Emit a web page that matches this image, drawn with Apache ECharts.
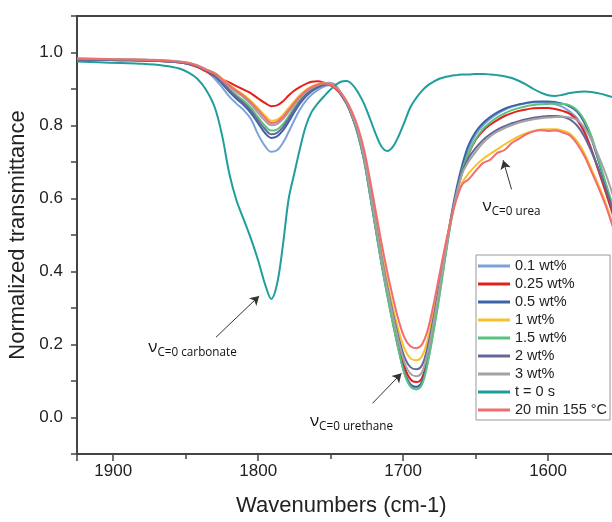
<!DOCTYPE html>
<html>
<head>
<meta charset="utf-8">
<script src="https://cdn.jsdelivr.net/npm/echarts@6/dist/echarts.min.js"></script>
<style>
html,body{margin:0;padding:0;background:#fff;}
#chart{width:612px;height:522px;}
</style>
</head>
<body>
<div id="chart"></div>
<script>
// Wavenumbers (cm-1), shared x values for all spectra
const wavenumbers = [1925,1910,1895,1880,1865,1855,1848,1842,1836,
  1830,1825,1820,1815,1810,1805,1800,1795,1791,
  1787,1783,1779,1775,1771,1767,1763,1759,1755,1751,
  1747,1743,1739,1735,1731,1727,1723,1719,1715,1711,
  1707,1703,1699,1695,1691,1687,1683,1679,1675,1671,
  1667,1663,1659,1655,1650,1645,1640,1635,1630,1625,
  1620,1615,1610,1605,1600,1595,1590,1585,1580,1575,
  1570,1565,1560,1555];

const seriesNames = ['0.1 wt%','0.25 wt%','0.5 wt%','1 wt%','1.5 wt%','2 wt%','3 wt%','t = 0 s','20 min 155 °C'];

const wt01 = [0.982,0.981,0.980,0.979,0.977,0.974,0.970,0.963,0.950,
  0.928,0.905,0.880,0.860,0.842,0.818,0.775,0.742,0.728,
  0.732,0.752,0.782,0.815,0.845,0.868,0.885,0.897,0.906,0.910,
  0.905,0.885,0.860,0.823,0.775,0.710,0.620,0.525,0.430,0.345,
  0.265,0.190,0.125,0.092,0.082,0.095,0.155,0.240,0.335,0.440,
  0.540,0.620,0.685,0.735,0.775,0.800,0.818,0.832,0.843,0.851,
  0.857,0.861,0.863,0.864,0.862,0.858,0.851,0.838,0.820,0.785,
  0.735,0.675,0.615,0.550];

const wt025 = [0.980,0.980,0.979,0.978,0.976,0.973,0.968,0.960,0.948,
  0.935,0.926,0.918,0.908,0.898,0.888,0.874,0.861,0.853,
  0.855,0.866,0.882,0.896,0.906,0.914,0.920,0.921,0.918,0.912,
  0.902,0.885,0.860,0.825,0.778,0.712,0.622,0.527,0.433,0.348,
  0.270,0.198,0.138,0.105,0.097,0.108,0.165,0.250,0.345,0.445,
  0.540,0.615,0.675,0.720,0.760,0.785,0.802,0.815,0.826,0.834,
  0.840,0.844,0.847,0.848,0.848,0.845,0.840,0.832,0.815,0.782,
  0.732,0.675,0.615,0.555];

const wt05 = [0.981,0.980,0.979,0.978,0.976,0.973,0.969,0.963,0.952,
  0.935,0.915,0.893,0.873,0.856,0.834,0.806,0.778,0.766,
  0.770,0.786,0.810,0.837,0.861,0.880,0.894,0.904,0.911,0.913,
  0.906,0.886,0.860,0.822,0.772,0.705,0.613,0.518,0.424,0.338,
  0.258,0.185,0.122,0.090,0.084,0.098,0.160,0.248,0.345,0.450,
  0.548,0.630,0.695,0.745,0.782,0.806,0.823,0.836,0.846,0.853,
  0.858,0.862,0.865,0.866,0.866,0.864,0.860,0.852,0.838,0.808,
  0.762,0.700,0.635,0.570];

const wt1 = [0.983,0.982,0.981,0.980,0.978,0.975,0.971,0.964,0.953,
  0.944,0.929,0.912,0.897,0.884,0.867,0.847,0.826,0.813,
  0.816,0.829,0.848,0.867,0.884,0.898,0.907,0.913,0.916,0.914,
  0.906,0.888,0.863,0.829,0.784,0.722,0.637,0.546,0.455,0.373,
  0.300,0.237,0.188,0.162,0.157,0.168,0.215,0.290,0.375,0.465,
  0.545,0.605,0.645,0.668,0.690,0.708,0.722,0.735,0.748,0.760,
  0.771,0.779,0.785,0.789,0.790,0.790,0.786,0.778,0.757,0.725,
  0.680,0.635,0.585,0.525];

const wt15 = [0.982,0.981,0.980,0.979,0.977,0.974,0.970,0.963,0.951,
  0.939,0.921,0.901,0.883,0.868,0.848,0.822,0.798,0.786,
  0.789,0.803,0.825,0.849,0.870,0.887,0.899,0.908,0.914,0.916,
  0.910,0.888,0.862,0.824,0.774,0.707,0.615,0.518,0.422,0.336,
  0.256,0.182,0.118,0.085,0.077,0.090,0.150,0.235,0.330,0.435,
  0.535,0.615,0.680,0.722,0.762,0.790,0.808,0.822,0.833,0.842,
  0.848,0.853,0.856,0.858,0.859,0.860,0.859,0.855,0.842,0.815,
  0.770,0.705,0.640,0.575];

const wt2 = [0.981,0.980,0.979,0.978,0.976,0.973,0.969,0.962,0.951,
  0.937,0.918,0.897,0.878,0.862,0.841,0.814,0.789,0.776,
  0.780,0.795,0.818,0.843,0.866,0.884,0.897,0.906,0.912,0.914,
  0.908,0.888,0.862,0.826,0.779,0.715,0.628,0.535,0.443,0.360,
  0.285,0.218,0.165,0.138,0.132,0.143,0.195,0.273,0.362,0.457,
  0.545,0.620,0.675,0.710,0.738,0.760,0.776,0.789,0.798,0.806,
  0.812,0.817,0.821,0.824,0.826,0.826,0.824,0.817,0.800,0.770,
  0.728,0.680,0.625,0.565];

const wt3 = [0.984,0.983,0.982,0.981,0.979,0.976,0.972,0.965,0.954,
  0.942,0.925,0.907,0.891,0.877,0.858,0.834,0.812,0.801,
  0.804,0.817,0.837,0.858,0.877,0.892,0.903,0.911,0.916,0.917,
  0.912,0.890,0.864,0.828,0.780,0.715,0.626,0.532,0.438,0.354,
  0.277,0.207,0.150,0.120,0.113,0.124,0.178,0.260,0.352,0.450,
  0.540,0.615,0.670,0.700,0.728,0.752,0.770,0.783,0.793,0.801,
  0.808,0.813,0.817,0.820,0.822,0.823,0.824,0.822,0.815,0.795,
  0.760,0.715,0.665,0.605];

const t0s = [0.975,0.973,0.971,0.969,0.964,0.957,0.945,0.928,0.898,
  0.850,0.775,0.670,0.595,0.543,0.490,0.430,0.362,0.325,
  0.365,0.470,0.598,0.670,0.740,0.800,0.838,0.860,0.878,0.895,
  0.910,0.920,0.922,0.912,0.890,0.860,0.820,0.778,0.743,0.730,
  0.742,0.772,0.810,0.850,0.875,0.895,0.910,0.920,0.928,0.933,
  0.936,0.938,0.940,0.940,0.941,0.941,0.940,0.938,0.935,0.930,
  0.922,0.912,0.900,0.890,0.883,0.881,0.884,0.889,0.892,0.893,
  0.892,0.888,0.883,0.877];

const min20 = [0.983,0.982,0.981,0.980,0.978,0.975,0.971,0.964,0.953,
  0.943,0.927,0.910,0.895,0.881,0.863,0.842,0.820,0.807,
  0.810,0.823,0.842,0.862,0.880,0.895,0.905,0.912,0.915,0.913,
  0.905,0.890,0.867,0.835,0.793,0.735,0.655,0.568,0.480,0.400,
  0.328,0.265,0.218,0.195,0.190,0.200,0.240,0.310,0.390,0.470,
  0.540,0.600,0.640,0.652,0.675,0.697,0.706,0.725,0.733,0.752,
  0.764,0.776,0.784,0.787,0.785,0.786,0.781,0.773,0.750,0.717,
  0.673,0.628,0.578,0.518];

const seriesValues = [wt01, wt025, wt05, wt1, wt15, wt2, wt3, t0s, min20];
const seriesColors = ['#7ba3d8','#e3201b','#3c64a5','#f6c22b','#5bc27d','#66669a','#a3a3a3','#1f9e9b','#f26d6d'];

// Annotation texts and arrows (data coordinates: wavenumber, transmittance)
const annotLabels = ['C=0 carbonate','C=0 urethane','C=0 urea'];
const annotTextPos = [[1875.8,0.188],[1764.3,-0.015],[1645.2,0.575]];
const annotArrows = [
  [[1829.1,0.220],[1799.3,0.333]],
  [[1721.1,0.039],[1701.1,0.121]],
  [[1625.2,0.625],[1631.0,0.705]]
];

const xTicks = [1500,1600,1700,1800,1900];

const chart = echarts.init(document.getElementById('chart'), null, {renderer:'canvas'});

const series = seriesNames.map((name, i) => ({
  name: name,
  type: 'line',
  data: wavenumbers.map((w, j) => [w, seriesValues[i][j]]),
  smooth: 0.35,
  showSymbol: false,
  symbol: 'none',
  lineStyle: {color: seriesColors[i], width: 2},
  itemStyle: {color: seriesColors[i]},
  z: 2 + i
}));

series.push({
  name: 'annotations',
  type: 'line',
  data: [],
  markLine: {
    silent: true,
    symbol: ['none','arrow'],
    symbolSize: [8, 9],
    lineStyle: {color: '#333', width: 1, type: 'solid'},
    label: {show: false},
    data: annotArrows.map(a => [{coord: a[0]}, {coord: a[1]}])
  },
  markPoint: {
    silent: true,
    symbol: 'circle',
    symbolSize: 0,
    itemStyle: {color: 'rgba(0,0,0,0)'},
    label: {
      show: true,
      position: 'right',
      distance: 0,
      formatter: p => '{v|ν}{s|' + p.name + '}',
      rich: {
        v: {fontFamily: 'Open Sans', fontSize: 17, color: '#111', verticalAlign: 'bottom', padding: [0,0,3,0]},
        s: {fontFamily: 'Open Sans', fontSize: 11.7, color: '#111', verticalAlign: 'bottom'}
      }
    },
    data: annotLabels.map((t, i) => ({name: t, coord: annotTextPos[i]}))
  },
  z: 20
});

chart.setOption({
  animation: false,
  backgroundColor: '#fff',
  grid: {left: 77, top: 16, width: 616, height: 438, show: true, borderColor: '#444', borderWidth: 2, backgroundColor: 'transparent', containLabel: false, outerBoundsMode: 'none'},
  xAxis: {
    type: 'value',
    inverse: true,
    min: 1500,
    max: 1925,
    interval: 100,
    axisLine: {show: true, onZero: false, lineStyle: {color: '#444', width: 2}},
    axisTick: {show: true, inside: false, length: 7, lineStyle: {color: '#444', width: 1.5}},
    minorTick: {show: true, splitNumber: 2, length: 5, lineStyle: {color: '#444', width: 1.5}},
    splitLine: {show: false},
    minorSplitLine: {show: false},
    axisLabel: {
      color: '#222', fontSize: 17, fontFamily: 'Liberation Sans', margin: 9,
      showMinLabel: false, showMaxLabel: false,
      formatter: v => xTicks.indexOf(v) >= 0 ? String(v) : ''
    }
  },
  yAxis: {
    type: 'value',
    min: -0.1,
    max: 1.1,
    interval: 0.1,
    name: 'Normalized transmittance',
    nameLocation: 'middle',
    nameGap: 46,
    nameTextStyle: {fontSize: 22, fontFamily: 'Liberation Sans', color: '#222'},
    axisLine: {show: true, onZero: false, lineStyle: {color: '#444', width: 2}},
    axisTick: {show: true, inside: false, length: 6, lineStyle: {color: '#444', width: 1.5}},
    splitLine: {show: false},
    axisLabel: {
      color: '#222', fontSize: 17, fontFamily: 'Liberation Sans', margin: 14,
      formatter: v => { const k = Math.round(v * 10); return (k % 2 === 0) ? (k / 10).toFixed(1) : ''; }
    }
  },
  legend: {
    data: seriesNames,
    orient: 'vertical',
    left: 476,
    top: 255,
    itemWidth: 32,
    itemHeight: 3,
    itemGap: 0,
    icon: 'rect',
    padding: [2, 3, 1, 2],
    borderColor: '#999',
    borderWidth: 1,
    backgroundColor: '#fff',
    textStyle: {fontSize: 14.5, fontFamily: 'Liberation Sans', color: '#222', lineHeight: 18}
  },
  graphic: [{
    type: 'text',
    left: 236,
    top: 495,
    style: {text: 'Wavenumbers (cm-1)', font: '22px "Liberation Sans"', fill: '#222'}
  }],
  series: series
});
</script>
</body>
</html>
